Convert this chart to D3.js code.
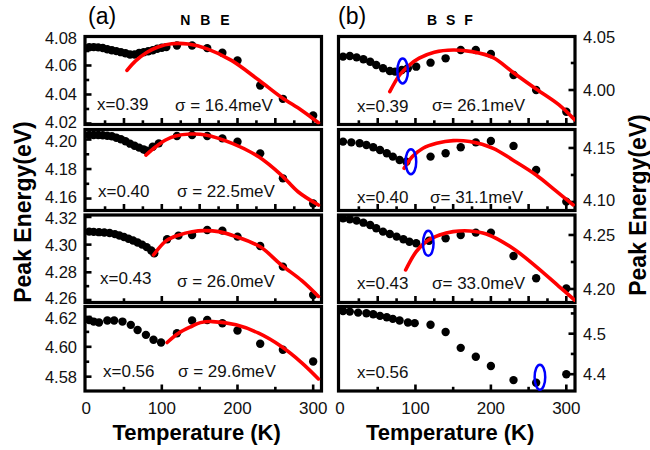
<!DOCTYPE html>
<html><head><meta charset="utf-8">
<script src="https://cdn.jsdelivr.net/npm/d3@7"></script>
<style>body{margin:0;background:#fff} text{font-family:"Liberation Sans",Arial,sans-serif}</style>
</head><body><svg id="c" width="650" height="450"></svg>
<script>
// ---------- DATA: [Temperature (K), Peak energy (eV)] ----------
const nbe039 = [[4,4.0726],[10,4.0727],[16,4.0725],[22,4.0721],[28,4.0712],[34,4.0705],[40,4.0699],[46,4.0692],[52,4.0684],[58,4.0676],[64,4.0676],[70,4.0686],[76,4.0692],[82,4.0698],[88,4.0705],[94,4.0715],[100,4.0722],[106,4.0727],[120,4.0738],[140,4.0738],[160,4.0720],[180,4.0688],[200,4.0634],[230,4.0462],[260,4.0370],[300,4.0255]];
const nbe040 = [[4,4.2031],[10,4.2031],[16,4.2031],[22,4.2029],[28,4.2026],[34,4.2022],[40,4.2012],[46,4.2002],[52,4.1988],[58,4.1972],[64,4.1958],[70,4.1945],[76,4.1932],[80,4.1924],[88,4.1951],[96,4.1974],[120,4.2024],[140,4.2031],[160,4.2024],[180,4.2008],[200,4.1985],[230,4.1906],[260,4.1737],[300,4.1567]];
const nbe043 = [[4,4.3094],[10,4.3092],[17,4.3090],[24,4.3088],[31,4.3084],[38,4.3076],[44,4.3066],[50,4.3055],[56,4.3042],[62,4.3030],[68,4.3015],[74,4.3000],[80,4.2982],[86,4.2958],[90,4.2938],[107,4.3039],[122,4.3065],[140,4.3070],[160,4.3106],[180,4.3101],[200,4.3058],[230,4.2990],[260,4.2841],[300,4.2636]];
const nbe056 = [[4,4.6180],[10,4.6169],[17,4.6163],[28,4.6176],[37,4.6176],[48,4.6169],[59,4.6147],[68,4.6113],[79,4.6080],[89,4.6047],[99,4.6029],[120,4.6091],[140,4.6176],[160,4.6180],[180,4.6158],[200,4.6109],[230,4.6020],[260,4.5980],[300,4.5902]];
const bsf039 = [[4,4.0309],[13,4.0315],[22,4.0302],[31,4.0284],[40,4.0262],[48,4.0231],[57,4.0201],[66,4.0176],[73,4.0170],[82,4.0185],[90,4.0201],[101,4.0216],[120,4.0253],[140,4.0293],[160,4.0370],[180,4.0370],[200,4.0333],[230,4.0139],[260,4.0000],[300,3.9799]];
const bsf040 = [[4,4.1559],[15,4.1552],[26,4.1543],[35,4.1528],[44,4.1506],[53,4.1481],[62,4.1451],[70,4.1420],[79,4.1389],[88,4.1373],[120,4.1420],[140,4.1451],[160,4.1506],[180,4.1552],[200,4.1565],[230,4.1519],[260,4.1296],[300,4.1003]];
const bsf043 = [[4,4.2654],[13,4.2645],[22,4.2633],[31,4.2614],[40,4.2593],[48,4.2562],[57,4.2531],[66,4.2509],[75,4.2485],[84,4.2460],[92,4.2438],[101,4.2423],[118,4.2446],[140,4.2469],[160,4.2500],[180,4.2522],[200,4.2522],[230,4.2306],[260,4.2099],[300,4.2006]];
const bsf056 = [[4,4.5561],[13,4.5545],[24,4.5520],[35,4.5504],[44,4.5480],[53,4.5439],[62,4.5407],[70,4.5366],[79,4.5325],[90,4.5276],[99,4.5260],[120,4.5220],[140,4.5041],[160,4.4650],[180,4.4431],[200,4.4203],[230,4.3854],[260,4.3789],[300,4.4000]];

// fitted curves
const fitNbe039 = [[54,4.0566],[65,4.0630],[80,4.0690],[95,4.0728],[113,4.0750],[135,4.0748],[160,4.0715],[192,4.0635],[228,4.0500],[258,4.0381],[285,4.0290],[307,4.0205]];
const fitNbe040 = [[79,4.1895],[92,4.1951],[105,4.1997],[118,4.2024],[138,4.2037],[158,4.2031],[193,4.1974],[228,4.1883],[258,4.1759],[280,4.1646],[307,4.1556]];
const fitNbe043 = [[89,4.2925],[106,4.3029],[123,4.3070],[140,4.3093],[156,4.3101],[175,4.3094],[198,4.3058],[230,4.2984],[258,4.2853],[285,4.2740],[307,4.2626]];
const fitNbe056 = [[107,4.6029],[122,4.6091],[139,4.6136],[151,4.6162],[167,4.6169],[198,4.6147],[228,4.6091],[258,4.6002],[285,4.5893],[307,4.5785]];
const fitBsf039 = [[66,3.9985],[79,4.0139],[92,4.0231],[105,4.0295],[125,4.0350],[150,4.0370],[175,4.0355],[203,4.0300],[229,4.0165],[260,4.0010],[290,3.9865],[311,3.9725]];
const fitBsf040 = [[85,4.1312],[96,4.1420],[110,4.1497],[128,4.1543],[150,4.1568],[172,4.1559],[203,4.1497],[229,4.1389],[260,4.1250],[285,4.1110],[309,4.0974]];
const fitBsf043 = [[87,4.2176],[101,4.2346],[114,4.2438],[132,4.2500],[150,4.2531],[172,4.2537],[194,4.2509],[229,4.2377],[260,4.2207],[290,4.2025],[311,4.1898]];
const fitBsf056 = [];

// highlighted points (blue ellipses), BSF column
const bsfMarks = [[83,4.0176],[94,4.1373],[117,4.2423],[265,4.3927]];

// labels
const compositions = ["x=0.39","x=0.40","x=0.43","x=0.56"];
const nbeSigma = ["σ = 16.4meV","σ = 22.5meV","σ = 26.0meV","σ = 29.6meV"];
const bsfSigma = ["σ= 26.1meV","σ= 31.1meV","σ= 33.0meV",""];
const nbeTicks = [[4.02,4.04,4.06,4.08],[4.16,4.18,4.20],[4.26,4.28,4.30,4.32],[4.58,4.60,4.62]];
const bsfTicks = [[4.00,4.05],[4.10,4.15],[4.20,4.25],[4.4,4.5]];
const xTicks = [0,100,200,300];

// axis domains
const nbeDomains = [[4.0193,4.0800],[4.1519,4.2068],[4.2582,4.3214],[4.5704,4.6270]];
const bsfDomains = [[3.9681,4.0495],[4.0921,4.1671],[4.1875,4.2685],[4.3585,4.5671]];

// ---------- LAYOUT ----------
const svg = d3.select("#c");
const rows = [[36.5,124.5],[129.5,210.5],[215,302.5],[306.5,391]];
const cols = [
  {side:"left", x0:85, x1:321.5, tDom:[-1.5,311], data:[nbe039,nbe040,nbe043,nbe056], fits:[fitNbe039,fitNbe040,fitNbe043,fitNbe056],
   doms:nbeDomains, ticks:nbeTicks, minor:[0.01,0.01,0.01,0.01], xstep:[25,25,50,50], sig:nbeSigma,
   compX:[97,98,100,103], compY:[110,197,284,377], sigX:[175,177,177,178], sigY:[111,197,287,377], fmt:[".2f",".2f",".2f",".2f"]},
  {side:"right", x0:338.5, x1:575, tDom:[-2,311.5], data:[bsf039,bsf040,bsf043,bsf056], fits:[fitBsf039,fitBsf040,fitBsf043,fitBsf056],
   doms:bsfDomains, ticks:bsfTicks, minor:[0.025,0.025,0.025,0.05], xstep:[25,25,25,50], sig:bsfSigma,
   compX:[357,357,357,357], compY:[112,203,289,378], sigX:[432,430,432,432], sigY:[111,203,289,378], fmt:[".2f",".2f",".2f",".1f"]}
];

cols.forEach((c, ci) => {
  const x = d3.scaleLinear().domain(c.tDom).range([c.x0, c.x1]);
  rows.forEach((r, ri) => {
    const y = d3.scaleLinear().domain(c.doms[ri]).range([r[1], r[0]]);
    const g = svg.append("g");
    const cid = `clip${ci}${ri}`;
    svg.append("clipPath").attr("id", cid).append("rect")
      .attr("x", c.x0).attr("y", r[0]).attr("width", c.x1 - c.x0).attr("height", r[1] - r[0]);

    // y ticks (inside)
    const [lo, hi] = c.doms[ri];
    const st = c.minor[ri];
    const yTickVals = [];
    for (let k = Math.ceil(lo / st - 1e-6); k * st <= hi + 1e-9; k++) yTickVals.push(+(k * st).toFixed(4));
    const isMajor = v => c.ticks[ri].some(t => Math.abs(t - v) < 1e-6);
    const edgeX = c.side === "left" ? c.x0 : c.x1;
    const dir = c.side === "left" ? 1 : -1;
    g.selectAll(".yt").data(yTickVals).join("line")
      .attr("x1", edgeX).attr("x2", d => edgeX + dir * (isMajor(d) ? 6.5 : 4.2))
      .attr("y1", d => y(d)).attr("y2", d => y(d))
      .attr("stroke", "#000").attr("stroke-width", 2.6);
    // y tick labels (edge labels nudged slightly inward so neighbours don't collide)
    const nudge = d => {
      const py = y(d);
      if (py - r[0] < 12) return 1.5;
      if (r[1] - py < 12) return -1.5;
      return 0;
    };
    g.selectAll(".yl").data(c.ticks[ri]).join("text")
      .attr("x", c.side === "left" ? 77 : 583)
      .attr("y", d => y(d) + nudge(d)).attr("dy", "0.36em")
      .attr("text-anchor", c.side === "left" ? "end" : "start")
      .attr("font-size", 16.5).attr("fill", "#111")
      .text(d => d3.format(c.fmt[ri])(d));

    // x ticks (bottom, inside)
    const xs = c.xstep[ri];
    const xTickVals = d3.range(xs, 301, xs);
    g.selectAll(".xt").data(xTickVals).join("line")
      .attr("x1", d => x(d)).attr("x2", d => x(d))
      .attr("y1", r[1]).attr("y2", d => r[1] - ((d % (xs * 2) === 0) ? 6.5 : 4.2))
      .attr("stroke", "#000").attr("stroke-width", 2.6);

    // frame
    g.append("rect").attr("x", c.x0).attr("y", r[0]).attr("width", c.x1 - c.x0).attr("height", r[1] - r[0])
      .attr("fill", "none").attr("stroke", "#000").attr("stroke-width", 3.2);

    // data points
    g.selectAll(".pt").data(c.data[ri]).join("circle")
      .attr("cx", d => x(d[0])).attr("cy", d => y(d[1])).attr("r", 4.2).attr("fill", "#000");

    // fit
    if (c.fits[ri].length) {
      g.append("path").datum(c.fits[ri])
        .attr("clip-path", `url(#${cid})`)
        .attr("d", d3.line().x(d => x(d[0])).y(d => y(d[1])).curve(d3.curveCatmullRom.alpha(0.5)))
        .attr("fill", "none").attr("stroke", "#ff0000").attr("stroke-width", 3.6).attr("stroke-linecap", "round");
    }

    // blue ellipse
    if (c.side === "right") {
      const m = bsfMarks[ri];
      g.append("ellipse").attr("cx", x(m[0])).attr("cy", y(m[1])).attr("rx", 5.3).attr("ry", 12.5)
        .attr("fill", "none").attr("stroke", "#0000ff").attr("stroke-width", 2.5);
    }

    // annotations
    g.append("text").attr("x", c.compX[ri]).attr("y", c.compY[ri]).attr("font-size", 17).attr("fill", "#111").text(compositions[ri]);
    if (c.sig[ri]) g.append("text").attr("x", c.sigX[ri]).attr("y", c.sigY[ri]).attr("font-size", 17).attr("fill", "#111").text(c.sig[ri]);

    // x tick labels for bottom panel
    if (ri === 3) {
      svg.selectAll(null).data(xTicks).join("text")
        .attr("x", d => x(d)).attr("y", 414).attr("text-anchor", "middle")
        .attr("font-size", 17).attr("fill", "#111").text(d => d);
      svg.append("text").attr("x", (x(0) + x(300)) / 2 - 3).attr("y", 440).attr("text-anchor", "middle")
        .attr("font-size", 22).attr("font-weight", "bold").text("Temperature (K)");
    }
  });
});

// panel titles
svg.append("text").attr("x", 88).attr("y", 24).attr("font-size", 23).text("(a)");
svg.append("text").attr("x", 338).attr("y", 24).attr("font-size", 23).text("(b)");
svg.append("text").attr("x", 205).attr("y", 25).attr("text-anchor", "middle").attr("font-size", 14).attr("font-weight", "bold").attr("word-spacing", 6).text("N B E");
svg.append("text").attr("x", 450).attr("y", 25).attr("text-anchor", "middle").attr("font-size", 14).attr("font-weight", "bold").attr("word-spacing", 5).text("B S F");

// y axis titles
svg.append("text").attr("transform", "translate(31,212) rotate(-90)").attr("text-anchor", "middle")
  .attr("font-size", 23).attr("font-weight", "bold").text("Peak Energy(eV)");
svg.append("text").attr("transform", "translate(646,205) rotate(-90)").attr("text-anchor", "middle")
  .attr("font-size", 23).attr("font-weight", "bold").text("Peak Energy(eV)");
</script></body></html>
